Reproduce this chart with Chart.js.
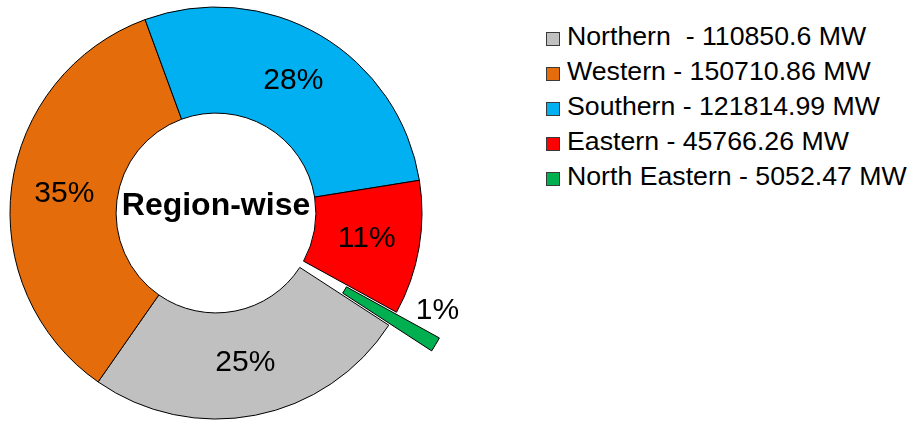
<!DOCTYPE html>
<html>
<head>
<meta charset="utf-8">
<script src="https://cdn.jsdelivr.net/npm/chart.js@4"></script>
<style>
    body { margin: 0; background: #fff; font-family: "Liberation Sans", Arial, sans-serif; }
    #chart-box { position: absolute; left: 0; top: 0; width: 540px; height: 421px; }
    #legend { position: absolute; left: 546px; top: 19px; }
    .legend-item { height: 35px; line-height: 35px; font-size: 26.7px; color: #000; white-space: pre; }
    .legend-item span.box {
        display: inline-block; width: 12px; height: 12px; border: 1px solid #3a3a3a;
        margin-right: 7px; vertical-align: -1px;
    }
</style>
</head>
<body>
<div id="chart-box"><canvas id="regionChart" width="540" height="421"></canvas></div>
<div id="legend"></div>
<script>
// dados do grafico
const regioes = ['Northern ', 'Western', 'Southern', 'Eastern', 'North Eastern'];
const capacidade = [110850.6, 150710.86, 121814.99, 45766.26, 5052.47];
const rotulosPct = ['25%', '35%', '28%', '11%', '1%'];
const cores = ['#C0C0C0', '#E46C0A', '#00B0F0', '#FF0000', '#00B050'];
const destaque = [0, 0, 0, 0, 50]; // fatia deslocada para fora (px)

// a fatia destacada e desenhada pelo plugin, deslocada
const preenchimento = cores.map((c, i) => destaque[i] > 0 ? 'rgba(0,0,0,0)' : c);
const bordas = cores.map((c, i) => destaque[i] > 0 ? 'rgba(0,0,0,0)' : '#000');

// legenda em HTML
const legend = document.getElementById('legend');
regioes.forEach((nome, i) => {
    const div = document.createElement('div');
    div.className = 'legend-item';
    const box = document.createElement('span');
    box.className = 'box';
    box.style.background = cores[i];
    div.appendChild(box);
    div.appendChild(document.createTextNode(`${nome} - ${capacidade[i]} MW`));
    legend.appendChild(div);
});

// fatias destacadas, rotulos de porcentagem e texto central
const rotulosPlugin = {
    id: 'rotulos',
    afterDatasetsDraw(chart) {
        const ctx = chart.ctx;
        const meta = chart.getDatasetMeta(0);
        ctx.save();
        meta.data.forEach((arc, i) => {
            if (destaque[i] <= 0) return;
            const meio = (arc.startAngle + arc.endAngle) / 2;
            const dx = Math.cos(meio) * destaque[i];
            const dy = Math.sin(meio) * destaque[i];
            ctx.beginPath();
            ctx.arc(arc.x + dx, arc.y + dy, arc.outerRadius, arc.startAngle, arc.endAngle);
            ctx.arc(arc.x + dx, arc.y + dy, arc.innerRadius, arc.endAngle, arc.startAngle, true);
            ctx.closePath();
            ctx.fillStyle = cores[i];
            ctx.fill();
            ctx.lineWidth = 1;
            ctx.strokeStyle = '#000';
            ctx.stroke();
        });

        ctx.fillStyle = '#000';
        ctx.textAlign = 'center';
        ctx.textBaseline = 'middle';
        ctx.font = '30px "Liberation Sans", Arial, sans-serif';
        meta.data.forEach((arc, i) => {
            let pos;
            if (destaque[i] > 0) {
                // fatia pequena: rotulo fora do anel
                const ang = (arc.startAngle + arc.endAngle) / 2 - 0.124;
                const r = arc.outerRadius + 36;
                pos = { x: arc.x + Math.cos(ang) * r, y: arc.y + Math.sin(ang) * r };
            } else {
                pos = arc.tooltipPosition();
            }
            ctx.fillText(rotulosPct[i], pos.x, pos.y);
        });
        const a = meta.data[0];
        ctx.font = 'bold 32px "Liberation Sans", Arial, sans-serif';
        ctx.fillText('Region-wise', a.x, a.y - 7);
        ctx.restore();
    }
};

const ctx = document.getElementById('regionChart').getContext('2d');
const chart = new Chart(ctx, {
    type: 'doughnut',
    data: {
        labels: regioes,
        datasets: [{
            data: capacidade,
            backgroundColor: preenchimento,
            borderColor: bordas,
            borderWidth: 1
        }]
    },
    options: {
        responsive: false,
        animation: false,
        events: [],
        rotation: 123,
        radius: 206,
        cutout: '48.5%',
        layout: { padding: { top: 5, right: 108 } },
        plugins: {
            legend: { display: false },
            tooltip: { enabled: false }
        }
    },
    plugins: [rotulosPlugin]
});
</script>
</body>
</html>
